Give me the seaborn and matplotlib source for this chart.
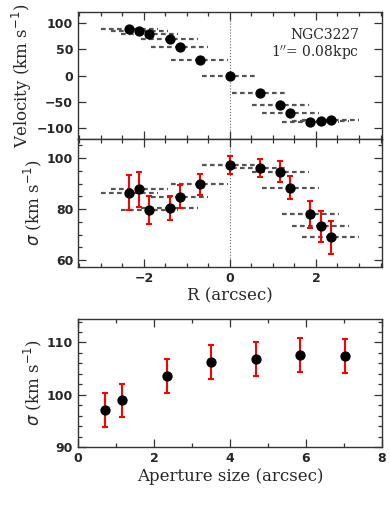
import numpy as np
import pandas as pd
import matplotlib
matplotlib.use("Agg")
import matplotlib.pyplot as plt
from matplotlib.ticker import MultipleLocator
import seaborn as sns

# ---------------- data ----------------
radius = [-2.34, -2.11, -1.87, -1.40, -1.17, -0.70, 0.0, 0.70, 1.17, 1.40, 1.87, 2.11, 2.34]
velocity = [87.5, 84, 78, 69, 54, 30, 0, -33, -56, -70, -88.5, -86, -85]
sigma = [86.5, 87.7, 79.6, 80.5, 84.8, 89.7, 97.3, 96.1, 94.6, 88.4, 77.9, 73.3, 68.9]
sigma_err = [7.0, 6.8, 5.5, 4.6, 4.5, 4.0, 3.4, 3.5, 4.1, 4.4, 5.4, 6.0, 6.5]
bin_halfwidth = [0.66] * 13

aperture = [0.70, 1.17, 2.34, 3.51, 4.68, 5.85, 7.02]
ap_sigma = [97.1, 98.9, 103.6, 106.3, 106.8, 107.6, 107.5]
ap_err = [3.3, 3.25, 3.2, 3.25, 3.2, 3.25, 3.25]

df = pd.DataFrame({"R": radius, "V": velocity, "sig": sigma,
                   "err": sigma_err, "hw": bin_halfwidth})
dfa = pd.DataFrame({"ap": aperture, "sig": ap_sigma, "err": ap_err})

sns.set_style("ticks")
plt.rcParams["font.family"] = ["DejaVu Sans"]

fig = plt.figure(figsize=(3.9, 5.2), dpi=100)
L, W = 0.200, 0.779
ax1 = fig.add_axes([L, 0.7327, W, 0.2442])
ax2 = fig.add_axes([L, 0.4865, W, 0.2462], sharex=ax1)
ax3 = fig.add_axes([L, 0.1404, W, 0.2462])

dash_kw = dict(colors="#555555", linestyles=(0, (2.1, 1.5)), linewidth=1.6, zorder=1)
serif = ["DejaVu Serif"]

# top panel
ax1.hlines(df["V"], df["R"] - df["hw"], df["R"] + df["hw"], **dash_kw)
ax1.axvline(0, color="#666666", linestyle=":", linewidth=0.8, zorder=0)
sns.scatterplot(data=df, x="R", y="V", ax=ax1, color="black", s=55,
                edgecolor="black", linewidth=0, zorder=3, legend=False)
ax1.set_xlim(-3.53, 3.53)
ax1.set_ylim(-120, 120)
ax1.yaxis.set_major_locator(MultipleLocator(50))
ax1.xaxis.set_major_locator(MultipleLocator(2))
ax1.xaxis.set_minor_locator(MultipleLocator(0.5))
ax1.set_ylabel("Velocity (km s$^{-1}$)", fontsize=12, family=serif, labelpad=2)
ax1.set_xlabel("")
ax1.tick_params(labelbottom=False)
ax1.text(0.925, 0.82, "NGC3227", transform=ax1.transAxes, ha="right",
         va="center", fontsize=10, family=serif)
ax1.text(0.925, 0.68, "1$^{\\prime\\prime}$= 0.08kpc", transform=ax1.transAxes, ha="right",
         va="center", fontsize=10, family=serif)

# middle panel
ax2.hlines(df["sig"], df["R"] - df["hw"], df["R"] + df["hw"], **dash_kw)
ax2.axvline(0, color="#666666", linestyle=":", linewidth=0.8, zorder=0)
ax2.errorbar(df["R"], df["sig"], yerr=df["err"], fmt="none", ecolor="red",
             elinewidth=1.5, capsize=2.2, capthick=1.5, zorder=2)
sns.scatterplot(data=df, x="R", y="sig", ax=ax2, color="black", s=55,
                edgecolor="black", linewidth=0, zorder=3, legend=False)
ax2.set_ylim(57.3, 107.5)
ax2.yaxis.set_major_locator(MultipleLocator(20))
ax2.yaxis.set_minor_locator(MultipleLocator(5))
ax2.set_ylabel("$\\sigma$ (km s$^{-1}$)", fontsize=12, family=serif, labelpad=2)
ax2.set_xlabel("R (arcsec)", fontsize=12, family=serif, labelpad=2)

# bottom panel
ax3.errorbar(dfa["ap"], dfa["sig"], yerr=dfa["err"], fmt="none", ecolor="red",
             elinewidth=1.5, capsize=2.2, capthick=1.5, zorder=2)
sns.scatterplot(data=dfa, x="ap", y="sig", ax=ax3, color="black", s=55,
                edgecolor="black", linewidth=0, zorder=3, legend=False)
ax3.set_xlim(0, 8)
ax3.set_ylim(90, 114.5)
ax3.xaxis.set_major_locator(MultipleLocator(2))
ax3.xaxis.set_minor_locator(MultipleLocator(1))
ax3.yaxis.set_major_locator(MultipleLocator(10))
ax3.yaxis.set_minor_locator(MultipleLocator(2))
ax3.set_ylabel("$\\sigma$ (km s$^{-1}$)", fontsize=12, family=serif, labelpad=2)
ax3.set_xlabel("Aperture size (arcsec)", fontsize=12, family=serif, labelpad=2)

for ax in (ax1, ax2, ax3):
    for sp in ax.spines.values():
        sp.set_visible(True)
        sp.set_linewidth(1.0)
        sp.set_color("#333333")
    ax.tick_params(which="both", direction="in", top=True, right=True,
                   color="#333333")
    ax.tick_params(which="major", length=6, width=0.9, labelsize=9)
    ax.tick_params(which="minor", length=3, width=0.9)
    for lab in ax.get_xticklabels() + ax.get_yticklabels():
        lab.set_fontweight("bold")

fig.savefig("out.png", dpi=100)
